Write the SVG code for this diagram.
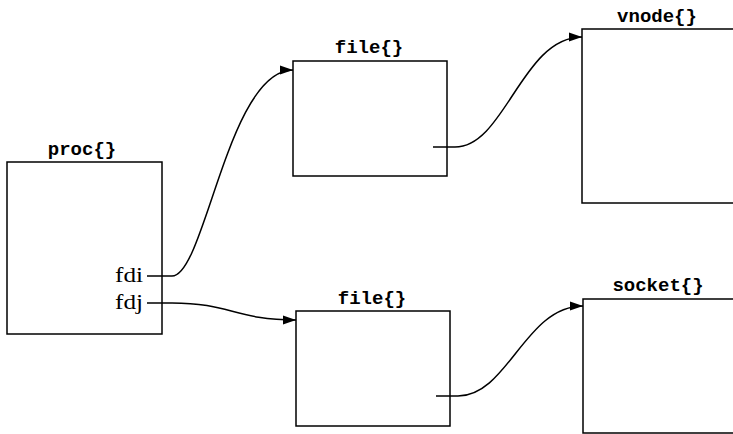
<svg xmlns="http://www.w3.org/2000/svg" width="733" height="434" viewBox="0 0 733 434">
<style>
.box{fill:none;stroke:#000;stroke-width:1.5}
.lbl{font-family:"Liberation Mono",monospace;font-weight:bold;font-size:19px;text-anchor:middle;fill:#000}
.fd{font-family:"Liberation Serif",serif;font-size:21px;text-anchor:end;fill:#000}
.con{fill:none;stroke:#000;stroke-width:1.5}
</style>
<defs>
<marker id="arr" markerWidth="14" markerHeight="10" refX="13" refY="5" orient="auto" markerUnits="userSpaceOnUse">
<path d="M0,0.5 L13,5 L0,9.5 Z" fill="#000"/>
</marker>
</defs>
<rect width="733" height="434" fill="#fff"/>
<g id="proc">
<rect class="box" x="7" y="162" width="155" height="172"/>
<text class="lbl" x="82" y="155">proc{}</text>
<text class="fd" x="143" y="282" textLength="28" lengthAdjust="spacingAndGlyphs">fdi</text>
<text class="fd" x="143" y="309" textLength="28" lengthAdjust="spacingAndGlyphs">fdj</text>
</g>
<g id="file1">
<rect class="box" x="293" y="61" width="154" height="115"/>
<text class="lbl" x="369" y="53">file{}</text>
</g>
<g id="vnode">
<rect class="box" x="582" y="29" width="160" height="174"/>
<text class="lbl" x="657" y="22">vnode{}</text>
</g>
<g id="file2">
<rect class="box" x="296" y="311" width="154" height="115"/>
<text class="lbl" x="372" y="304">file{}</text>
</g>
<g id="socket">
<rect class="box" x="583" y="299" width="160" height="134"/>
<text class="lbl" x="658" y="291">socket{}</text>
</g>
<g id="connectors">
<path class="con" marker-end="url(#arr)" d="M147,276 H172 C205,276 228,70 293,70"/>
<path class="con" marker-end="url(#arr)" d="M147,303 H172 C230,303 235,320 296,320"/>
<path class="con" marker-end="url(#arr)" d="M433,147 H455 C505,147 522,37 582,37"/>
<path class="con" marker-end="url(#arr)" d="M436,396 H458 C508,396 525,306 583,306"/>
</g>
</svg>
